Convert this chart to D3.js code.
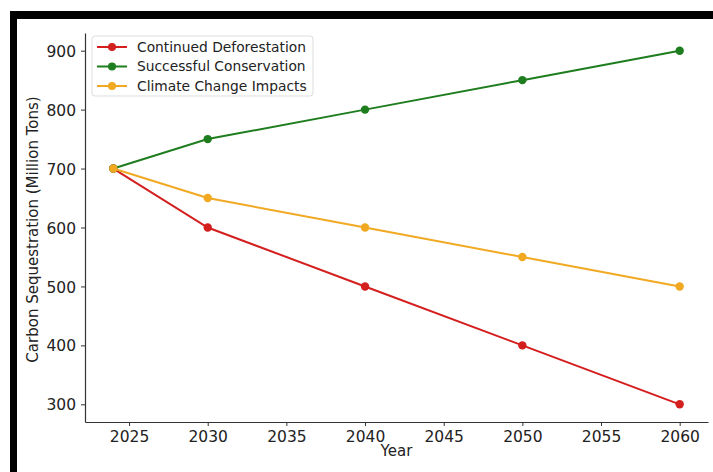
<!DOCTYPE html>
<html>
<head>
<meta charset="utf-8">
<script src="https://cdn.jsdelivr.net/npm/d3@7"></script>
<style>
  html, body { margin: 0; padding: 0; background: #fff; }
  svg { display: block; }
  text { font-family: "DejaVu Sans", sans-serif; fill: #222; }
</style>
</head>
<body>
<svg id="chart" width="713" height="472"></svg>
<script>
// Scenario data (million tons of carbon sequestered)
const years = [2024, 2030, 2040, 2050, 2060];
const deforestation = [700, 600, 500, 400, 300];
const conservation = [700, 750, 800, 850, 900];
const climateImpacts = [700, 650, 600, 550, 500];
const seriesNames = ["Continued Deforestation", "Successful Conservation", "Climate Change Impacts"];
const seriesColors = ["#d41f1f", "#1e7d1e", "#f2a922"];
const xTicks = [2025, 2030, 2035, 2040, 2045, 2050, 2055, 2060];
const yTicks = [300, 400, 500, 600, 700, 800, 900];

const series = [deforestation, conservation, climateImpacts].map((vals, i) => ({
  name: seriesNames[i],
  color: seriesColors[i],
  points: years.map((y, j) => ({ year: y, value: vals[j] }))
}));

const svg = d3.select("#chart");

// Black frame along top and left edges
svg.append("rect").attr("x", 10).attr("y", 11).attr("width", 703).attr("height", 8).attr("fill", "#000");
svg.append("rect").attr("x", 10).attr("y", 11).attr("width", 7).attr("height", 461).attr("fill", "#000");

const plot = { left: 85, right: 708, top: 33, bottom: 422 };

const x = d3.scaleLinear().domain([2022.2, 2061.8]).range([plot.left, plot.right]);
const y = d3.scaleLinear().domain([270, 930]).range([plot.bottom, plot.top]);

// Axes (left and bottom spines only)
const xAxis = svg.append("g")
  .attr("transform", `translate(0,${plot.bottom})`)
  .call(d3.axisBottom(x).tickValues(xTicks).tickFormat(d3.format("d")).tickSizeInner(4).tickSizeOuter(0).tickPadding(5));
const yAxis = svg.append("g")
  .attr("transform", `translate(${plot.left},0)`)
  .call(d3.axisLeft(y).tickValues(yTicks).tickSizeInner(4).tickSizeOuter(0).tickPadding(5));

[xAxis, yAxis].forEach(g => {
  g.select(".domain").attr("stroke", "#333").attr("stroke-width", 1.2);
  g.selectAll(".tick line").attr("stroke", "#333").attr("stroke-width", 1);
  g.selectAll(".tick text").style("font-family", "DejaVu Sans, sans-serif").style("font-size", "15.5px").attr("fill", "#222");
});
yAxis.selectAll(".tick text").attr("dy", "0.36em");

// Axis titles
svg.append("text")
  .attr("x", (plot.left + plot.right) / 2)
  .attr("y", 456)
  .attr("text-anchor", "middle")
  .style("font-size", "15px")
  .text("Year");
svg.append("text")
  .attr("transform", `translate(38,${(plot.top + plot.bottom) / 2 + 2}) rotate(-90)`)
  .attr("text-anchor", "middle")
  .style("font-size", "15px")
  .text("Carbon Sequestration (Million Tons)");

// Lines and markers
const line = d3.line().x(d => x(d.year)).y(d => y(d.value));
const groups = svg.append("g").selectAll("g").data(series).join("g");
groups.append("path")
  .attr("d", d => line(d.points))
  .attr("fill", "none")
  .attr("stroke", d => d.color)
  .attr("stroke-width", 2);
groups.selectAll("circle")
  .data(d => d.points.map(p => ({ ...p, color: d.color })))
  .join("circle")
  .attr("cx", d => x(d.year))
  .attr("cy", d => y(d.value))
  .attr("r", 4.2)
  .attr("fill", d => d.color);

// Legend
const legend = svg.append("g").attr("transform", "translate(92,36)");
legend.append("rect")
  .attr("width", 221).attr("height", 60).attr("rx", 3)
  .attr("fill", "#fff").attr("fill-opacity", 0.85)
  .attr("stroke", "#ddd");
const items = legend.selectAll("g.item").data(series).join("g")
  .attr("class", "item")
  .attr("transform", (d, i) => `translate(0,${11 + i * 19.5})`);
items.append("line")
  .attr("x1", 5).attr("x2", 35)
  .attr("stroke", d => d.color).attr("stroke-width", 2);
items.append("circle")
  .attr("cx", 20).attr("r", 4).attr("fill", d => d.color);
items.append("text")
  .attr("x", 45).attr("dy", "0.35em")
  .style("font-size", "13.8px")
  .attr("fill", "#333")
  .text(d => d.name);
</script>
</body>
</html>
